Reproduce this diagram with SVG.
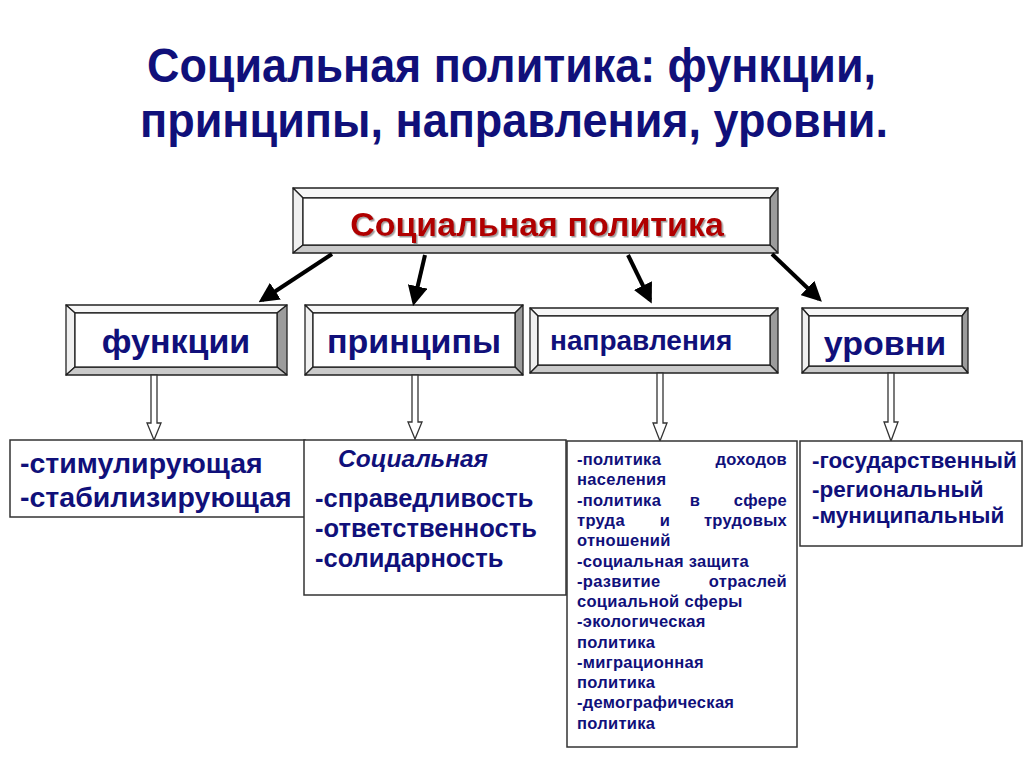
<svg xmlns="http://www.w3.org/2000/svg" width="1024" height="767" viewBox="0 0 1024 767">
<style>
  .t { font-family: "Liberation Sans", Arial, sans-serif; font-weight: bold; }
  .navy { fill: #10107a; }
  .face { fill: #ffffff; stroke: #222; stroke-width: 1.3; }
  .bt { fill: #f7f7f7; stroke: #222; stroke-width: 1.3; stroke-linejoin: round; }
  .bl { fill: #f0f0f0; stroke: #222; stroke-width: 1.3; stroke-linejoin: round; }
  .br { fill: #9c9c9c; stroke: #222; stroke-width: 1.3; stroke-linejoin: round; }
  .bb { fill: #cacaca; stroke: #222; stroke-width: 1.3; stroke-linejoin: round; }
  .box { fill: #ffffff; stroke: #333; stroke-width: 1.5; }
  .conn { stroke: #000; stroke-width: 4; fill: none; marker-end: url(#ah); }
  .hollow { fill: #ffffff; stroke: #333; stroke-width: 1.3; stroke-linejoin: miter; }
</style>
<defs>
  <marker id="ah" markerWidth="5" markerHeight="5" refX="4" refY="2.5" orient="auto" markerUnits="strokeWidth">
    <path d="M0,0 L5,2.5 L0,5 Z" fill="#000"/>
  </marker>
  <filter id="sh" x="-5%" y="-20%" width="110%" height="140%">
    <feDropShadow dx="1.5" dy="1.5" stdDeviation="0.6" flood-color="#777" flood-opacity="0.7"/>
  </filter>
</defs>
<rect width="1024" height="767" fill="#ffffff"/>

<g id="title">
  <text class="t navy" x="147" y="82" font-size="48" textLength="729" lengthAdjust="spacingAndGlyphs">Социальная политика: функции,</text>
  <text class="t navy" x="140" y="137" font-size="48" textLength="748" lengthAdjust="spacingAndGlyphs">принципы, направления, уровни.</text>
</g>

<g id="node-root">
  <polygon class="bt" points="293,188 778,188 770,198 303,198"/>
  <polygon class="bl" points="293,188 303,198 303,245 293,253"/>
  <polygon class="br" points="778,188 778,253 770,245 770,198"/>
  <polygon class="bb" points="293,253 778,253 770,245 303,245"/>
  <rect class="face" x="303" y="198" width="467" height="47"/>
  <text class="t" x="537" y="236" font-size="34" text-anchor="middle" fill="#b00000" filter="url(#sh)">Социальная политика</text>
</g>

<g id="node-funktsii">
  <polygon class="bt" points="66,305 287,305 277,313 75,313"/>
  <polygon class="bl" points="66,305 75,313 75,367 66,375"/>
  <polygon class="br" points="287,305 287,375 277,367 277,313"/>
  <polygon class="bb" points="66,375 287,375 277,367 75,367"/>
  <rect class="face" x="75" y="313" width="202" height="54"/>
  <text class="t navy" x="176" y="353" font-size="34" text-anchor="middle">функции</text>
</g>

<g id="node-printsipy">
  <polygon class="bt" points="305,305 523,305 515,313 313,313"/>
  <polygon class="bl" points="305,305 313,313 313,367 305,375"/>
  <polygon class="br" points="523,305 523,375 515,367 515,313"/>
  <polygon class="bb" points="305,375 523,375 515,367 313,367"/>
  <rect class="face" x="313" y="313" width="202" height="54"/>
  <text class="t navy" x="414" y="353" font-size="34" text-anchor="middle">принципы</text>
</g>

<g id="node-napravleniya">
  <polygon class="bt" points="530,308 778,308 770,316 538,316"/>
  <polygon class="bl" points="530,308 538,316 538,365 530,373"/>
  <polygon class="br" points="778,308 778,373 770,365 770,316"/>
  <polygon class="bb" points="530,373 778,373 770,365 538,365"/>
  <rect class="face" x="538" y="316" width="232" height="49"/>
  <text class="t navy" x="550" y="350" font-size="28">направления</text>
</g>

<g id="node-urovni">
  <polygon class="bt" points="802,308 968,308 962,316 809,316"/>
  <polygon class="bl" points="802,308 809,316 809,366 802,373"/>
  <polygon class="br" points="968,308 968,373 962,366 962,316"/>
  <polygon class="bb" points="802,373 968,373 962,366 809,366"/>
  <rect class="face" x="809" y="316" width="153" height="50"/>
  <text class="t navy" x="885" y="355" font-size="34" text-anchor="middle">уровни</text>
</g>

<g id="connectors">
  <line class="conn" x1="332" y1="254" x2="262" y2="300"/>
  <line class="conn" x1="425" y1="255" x2="414" y2="302"/>
  <line class="conn" x1="628" y1="255" x2="650" y2="300"/>
  <line class="conn" x1="772" y1="254" x2="819" y2="299"/>
  <path class="hollow" d="M151,375 L157,375 L157,423 L161,423 L154,440 L147,423 L151,423 Z"/>
  <path class="hollow" d="M412,375 L418,375 L418,422 L422,422 L415,439 L408,422 L412,422 Z"/>
  <path class="hollow" d="M657,373 L663,373 L663,423 L667,423 L660,441 L653,423 L657,423 Z"/>
  <path class="hollow" d="M888,373 L894,373 L894,422 L898,422 L891,441 L884,422 L888,422 Z"/>
</g>

<g id="node-funktsii-list">
  <rect class="box" x="10" y="440" width="295" height="77"/>
  <text class="t navy" font-size="28.5"><tspan x="20" y="473">-стимулирующая</tspan><tspan x="20" y="507">-стабилизирующая</tspan></text>
</g>

<g id="node-printsipy-list">
  <rect class="box" x="304" y="440" width="262" height="155"/>
  <text class="t navy" x="338" y="467" font-size="24.5" font-style="italic">Социальная</text>
  <text class="t navy" font-size="25.5"><tspan x="315" y="507">-справедливость</tspan><tspan x="315" y="537">-ответственность</tspan><tspan x="315" y="567">-солидарность</tspan></text>
</g>

<g id="node-napravleniya-list">
  <rect class="box" x="567" y="441" width="230" height="306"/>
  <g class="t navy" font-size="16.5" letter-spacing="0.3">
    <text x="577" y="465">-политика</text><text x="787" y="465" text-anchor="end">доходов</text>
    <text x="577" y="485">населения</text>
    <text x="577" y="506">-политика</text><text x="695" y="506" text-anchor="middle">в</text><text x="787" y="506" text-anchor="end">сфере</text>
    <text x="577" y="526">труда</text><text x="665" y="526" text-anchor="middle">и</text><text x="787" y="526" text-anchor="end">трудовых</text>
    <text x="577" y="546">отношений</text>
    <text x="577" y="567">-социальная защита</text>
    <text x="577" y="587">-развитие</text><text x="787" y="587" text-anchor="end">отраслей</text>
    <text x="577" y="607">социальной сферы</text>
    <text x="577" y="627">-экологическая</text>
    <text x="577" y="648">политика</text>
    <text x="577" y="668">-миграционная</text>
    <text x="577" y="688">политика</text>
    <text x="577" y="708">-демографическая</text>
    <text x="577" y="729">политика</text>
  </g>
</g>

<g id="node-urovni-list">
  <rect class="box" x="800" y="441" width="222" height="105"/>
  <text class="t navy" font-size="22.5"><tspan x="812" y="468">-государственный</tspan><tspan x="812" y="497">-региональный</tspan><tspan x="812" y="523">-муниципальный</tspan></text>
</g>
</svg>
